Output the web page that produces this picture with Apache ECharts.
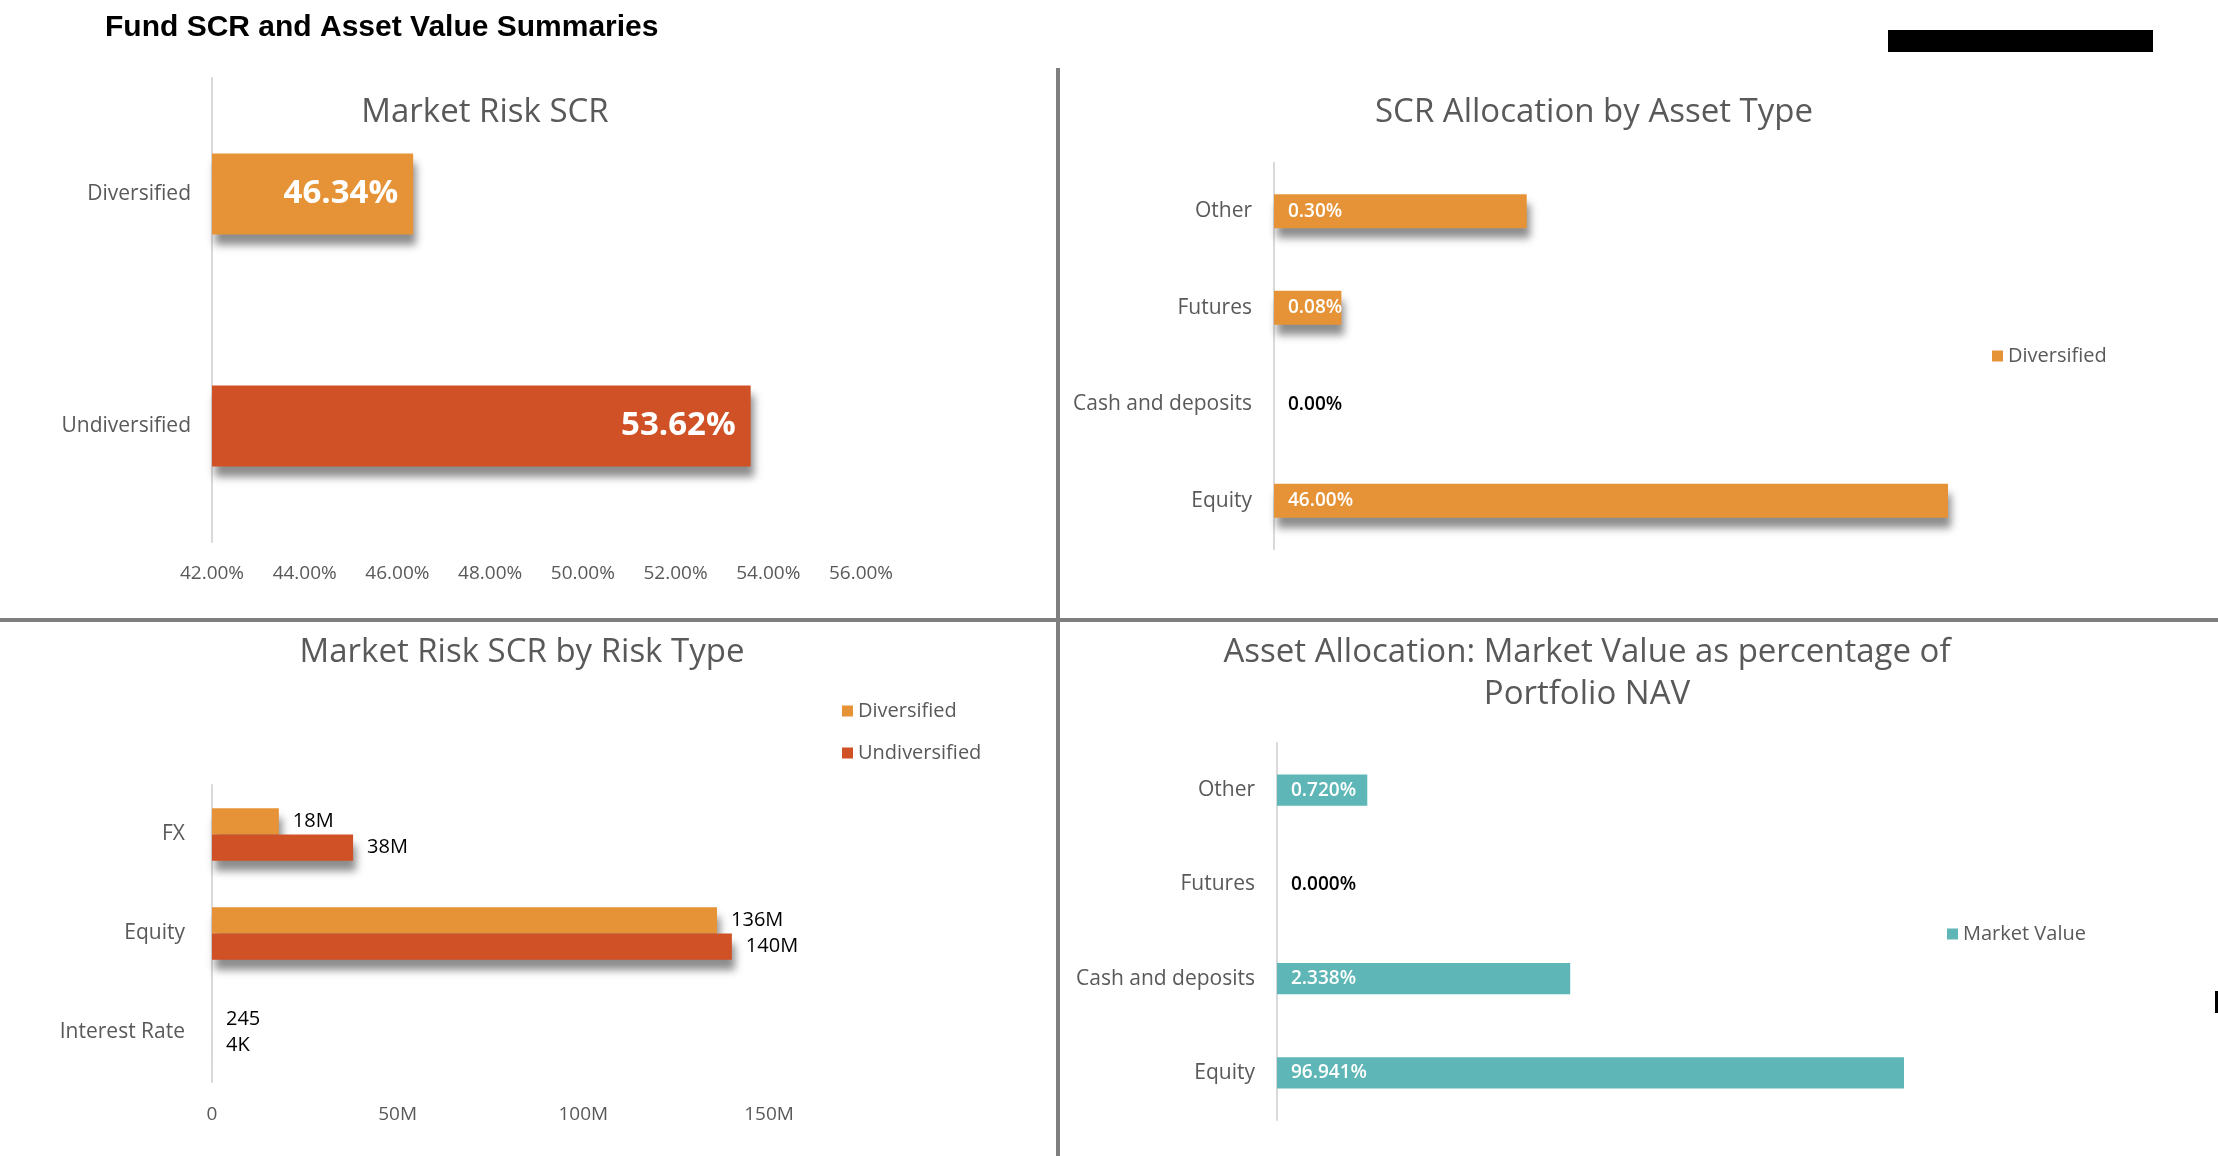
<!DOCTYPE html>
<html>
<head>
<meta charset="utf-8">
<title>Fund SCR and Asset Value Summaries</title>
<script src="https://cdn.jsdelivr.net/npm/echarts@6/dist/echarts.min.js"></script>
<style>
  html, body { margin: 0; padding: 0; background: #fff; }
  #container { width: 2218px; height: 1156px; }
</style>
</head>
<body>
<div id="container"></div>
<script>
// ---- data ----
// Market Risk SCR (percent)
const mrCategories = ['Undiversified', 'Diversified'];
const mrValues = [53.62, 46.34];
const mrTicks = [42, 44, 46, 48, 50, 52, 54, 56];

// SCR Allocation by Asset Type (percent, axis ends at 0.8 so Equity is cut)
const allocCategories = ['Equity', 'Cash and deposits', 'Futures', 'Other'];
const allocDiversified = [46.00, 0.00, 0.08, 0.30];

// Market Risk SCR by Risk Type (absolute)
const riskCategories = ['Interest Rate', 'Equity', 'FX'];
const riskDiversified = [245, 136e6, 18e6];
const riskUndiversified = [4000, 140e6, 38e6];
const riskTicks = [0, 50e6, 100e6, 150e6];

// Asset Allocation: market value as % of NAV (axis ends at 5, Equity is cut)
const navCategories = ['Equity', 'Cash and deposits', 'Futures', 'Other'];
const navValues = [96.941, 2.338, 0.000, 0.720];

// ---- styles ----
const ORANGE = '#E69337';
const RED = '#D05125';
const TEAL = '#5EB7B6';
const GREY_TEXT = '#595959';
const FONT = '"Open Sans", Lato, sans-serif';

const shadow = {
    shadowColor: 'rgba(0,0,0,0.45)',
    shadowBlur: 8,
    shadowOffsetX: 3,
    shadowOffsetY: 10
};

function abbrev(v) {
    if (v >= 1e6) return Math.round(v / 1e6) + 'M';
    if (v >= 1e3) return Math.round(v / 1e3) + 'K';
    return String(v);
}

function catAxis(gridIndex, data, margin) {
    return {
        type: 'category',
        gridIndex: gridIndex,
        data: data,
        axisLine: { lineStyle: { color: '#d9d9d9', width: 2 } },
        axisTick: { show: false },
        axisLabel: { color: GREY_TEXT, fontSize: 21, fontFamily: FONT, margin: margin }
    };
}

function zeroBlack(values) {
    return values.map(v => v === 0 ? { value: v, label: { color: '#000' } } : v);
}

function titleText(x, y, text) {
    return {
        type: 'text',
        x: x, y: y,
        style: {
            text: text,
            fill: GREY_TEXT,
            font: '33px ' + FONT,
            textAlign: 'center',
            textVerticalAlign: 'middle'
        }
    };
}

let dom = document.getElementById('container');
let myChart = echarts.init(dom, null, { renderer: 'canvas' });

const option = {
    animation: false,
    textStyle: { fontFamily: FONT },
    grid: [
        { left: 212, top: 78, width: 649, height: 464 },
        { left: 1274, top: 163, width: 674, height: 386 },
        { left: 212, top: 785, width: 557, height: 297 },
        { left: 1277, top: 743, width: 627, height: 377 }
    ],
    xAxis: [
        {
            type: 'value', gridIndex: 0,
            min: mrTicks[0], max: mrTicks[mrTicks.length - 1], interval: 2,
            axisLine: { show: false }, axisTick: { show: false }, splitLine: { show: false },
            axisLabel: {
                color: GREY_TEXT, fontSize: 19, fontFamily: FONT, margin: 22,
                formatter: v => v.toFixed(2) + '%'
            }
        },
        {
            type: 'value', gridIndex: 1, min: 0, max: 0.8,
            axisLine: { show: false }, axisTick: { show: false },
            splitLine: { show: false }, axisLabel: { show: false }
        },
        {
            type: 'value', gridIndex: 2,
            min: riskTicks[0], max: riskTicks[riskTicks.length - 1], interval: 50e6,
            axisLine: { show: false }, axisTick: { show: false }, splitLine: { show: false },
            axisLabel: {
                color: GREY_TEXT, fontSize: 19, fontFamily: FONT, margin: 23,
                formatter: v => abbrev(v)
            }
        },
        {
            type: 'value', gridIndex: 3, min: 0, max: 5,
            axisLine: { show: false }, axisTick: { show: false },
            splitLine: { show: false }, axisLabel: { show: false }
        }
    ],
    yAxis: [
        catAxis(0, mrCategories, 21),
        catAxis(1, allocCategories, 22),
        catAxis(2, riskCategories, 27),
        catAxis(3, navCategories, 22)
    ],
    legend: [
        {
            data: ['Diversified'],
            left: 1987, top: 341,
            itemWidth: 11, itemHeight: 11, icon: 'rect',
            textStyle: { color: GREY_TEXT, fontSize: 20, fontFamily: FONT }
        },
        {
            data: ['Diversified', 'Undiversified'],
            orient: 'vertical',
            left: 837, top: 696, itemGap: 22,
            itemWidth: 11, itemHeight: 11, icon: 'rect',
            textStyle: { color: GREY_TEXT, fontSize: 20, fontFamily: FONT }
        },
        {
            data: ['Market Value'],
            left: 1942, top: 919,
            itemWidth: 11, itemHeight: 11, icon: 'rect',
            textStyle: { color: GREY_TEXT, fontSize: 20, fontFamily: FONT }
        }
    ],
    series: [
        {
            name: 'Market Risk SCR',
            type: 'bar',
            xAxisIndex: 0, yAxisIndex: 0,
            barWidth: '35%',
            data: mrValues.map((v, i) => ({
                value: v,
                itemStyle: Object.assign({ color: i === 0 ? RED : ORANGE }, shadow)
            })),
            label: {
                show: true, position: 'insideRight', distance: 15,
                color: '#fff', fontSize: 33, fontWeight: 'bold', fontFamily: FONT,
                formatter: p => p.value.toFixed(2) + '%'
            }
        },
        {
            name: 'Diversified',
            type: 'bar',
            xAxisIndex: 1, yAxisIndex: 1,
            barWidth: '35%',
            itemStyle: Object.assign({ color: ORANGE }, shadow),
            data: zeroBlack(allocDiversified),
            label: {
                show: true, position: 'insideLeft', distance: 14,
                color: '#fff', fontSize: 19, fontWeight: 600, fontFamily: FONT,
                formatter: p => p.value.toFixed(2) + '%'
            }
        },
        {
            name: 'Diversified',
            type: 'bar',
            xAxisIndex: 2, yAxisIndex: 2,
            barWidth: '26.5%', barGap: '0%',
            itemStyle: Object.assign({ color: ORANGE }, shadow),
            data: riskDiversified,
            label: {
                show: true, position: 'right', distance: 14,
                color: '#000', fontSize: 20, fontFamily: FONT,
                formatter: p => abbrev(p.value)
            }
        },
        {
            name: 'Undiversified',
            type: 'bar',
            xAxisIndex: 2, yAxisIndex: 2,
            barWidth: '26.5%', barGap: '0%',
            itemStyle: Object.assign({ color: RED }, shadow),
            data: riskUndiversified,
            label: {
                show: true, position: 'right', distance: 14,
                color: '#000', fontSize: 20, fontFamily: FONT,
                formatter: p => abbrev(p.value)
            }
        },
        {
            name: 'Market Value',
            type: 'bar',
            xAxisIndex: 3, yAxisIndex: 3,
            barWidth: '33%',
            itemStyle: { color: TEAL },
            data: zeroBlack(navValues),
            label: {
                show: true, position: 'insideLeft', distance: 14,
                color: '#fff', fontSize: 19, fontWeight: 600, fontFamily: FONT,
                formatter: p => p.value.toFixed(3) + '%'
            }
        }
    ],
    graphic: [
        {
            type: 'text', x: 105, y: 28,
            style: {
                text: 'Fund SCR and Asset Value Summaries',
                fill: '#000',
                font: 'bold 30px "Liberation Sans", Arial, sans-serif',
                textVerticalAlign: 'middle'
            }
        },
        { type: 'rect', shape: { x: 1888, y: 30, width: 265, height: 22 }, style: { fill: '#000' } },
        { type: 'rect', shape: { x: 2215, y: 991, width: 3, height: 22 }, style: { fill: '#000' } },
        // panel dividers
        { type: 'rect', shape: { x: 1056, y: 68, width: 4, height: 1088 }, style: { fill: '#7f7f7f' } },
        { type: 'rect', shape: { x: 0, y: 618, width: 2218, height: 4 }, style: { fill: '#7f7f7f' } },
        titleText(485, 113, 'Market Risk SCR'),
        titleText(1594, 113, 'SCR Allocation by Asset Type'),
        titleText(522, 653, 'Market Risk SCR by Risk Type'),
        titleText(1587, 653, 'Asset Allocation: Market Value as percentage of'),
        titleText(1587, 695, 'Portfolio NAV')
    ]
};

myChart.setOption(option);
window.addEventListener('resize', () => myChart.resize());
</script>
</body>
</html>
